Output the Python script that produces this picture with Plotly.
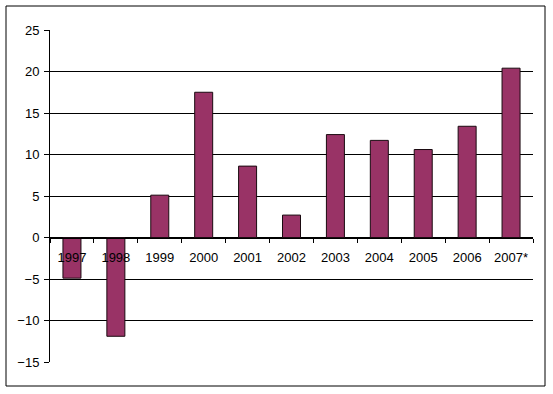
import plotly.graph_objects as go

years = ["1997", "1998", "1999", "2000", "2001", "2002", "2003", "2004", "2005", "2006", "2007*"]
values = [-4.9, -11.9, 5.1, 17.5, 8.6, 2.7, 12.4, 11.7, 10.6, 13.4, 20.4]
y_ticks = [-15, -10, -5, 0, 5, 10, 15, 20, 25]

W, H = 553, 394
ml, mr, mt, mb = 50, 20, 30, 32
pw = W - ml - mr
ph = H - mt - mb

fig = go.Figure(go.Bar(
    x=years, y=values,
    marker=dict(color="#993366", line=dict(color="#1a0a10", width=1)),
))

font = dict(family="Liberation Sans, Arial, sans-serif", size=13, color="#000000")

fig.update_layout(
    width=W, height=H,
    margin=dict(l=ml, r=mr, t=mt, b=mb),
    paper_bgcolor="white", plot_bgcolor="white",
    bargap=0.59,
    showlegend=False,
    font=font,
    xaxis=dict(
        type="category",
        anchor="free", position=(0 - (-15)) / 40,
        showline=True, linecolor="black", linewidth=1,
        ticks="outside", tickson="boundaries", ticklen=4, tickcolor="black",
        ticklabelstandoff=8,
        showgrid=False, zeroline=False,
        tickfont=font,
    ),
    yaxis=dict(
        range=[-15, 25], tickvals=y_ticks,
        showline=True, linecolor="black", linewidth=1,
        ticks="outside", ticklen=5, tickcolor="black",
        ticklabelstandoff=2,
        showgrid=True, gridcolor="black", gridwidth=1,
        zeroline=False,
        tickfont=font,
    ),
    shapes=[dict(
        type="rect", xref="paper", yref="paper",
        x0=(6 - ml) / pw, x1=(545 - ml) / pw,
        y0=(H - mb - 386) / ph, y1=(H - mb - 6) / ph,
        line=dict(color="black", width=1), fillcolor="rgba(0,0,0,0)",
        layer="below",
    )],
)

fig.write_html("out.html", config={"displayModeBar": False},
               post_script="document.body.style.margin='0';")
